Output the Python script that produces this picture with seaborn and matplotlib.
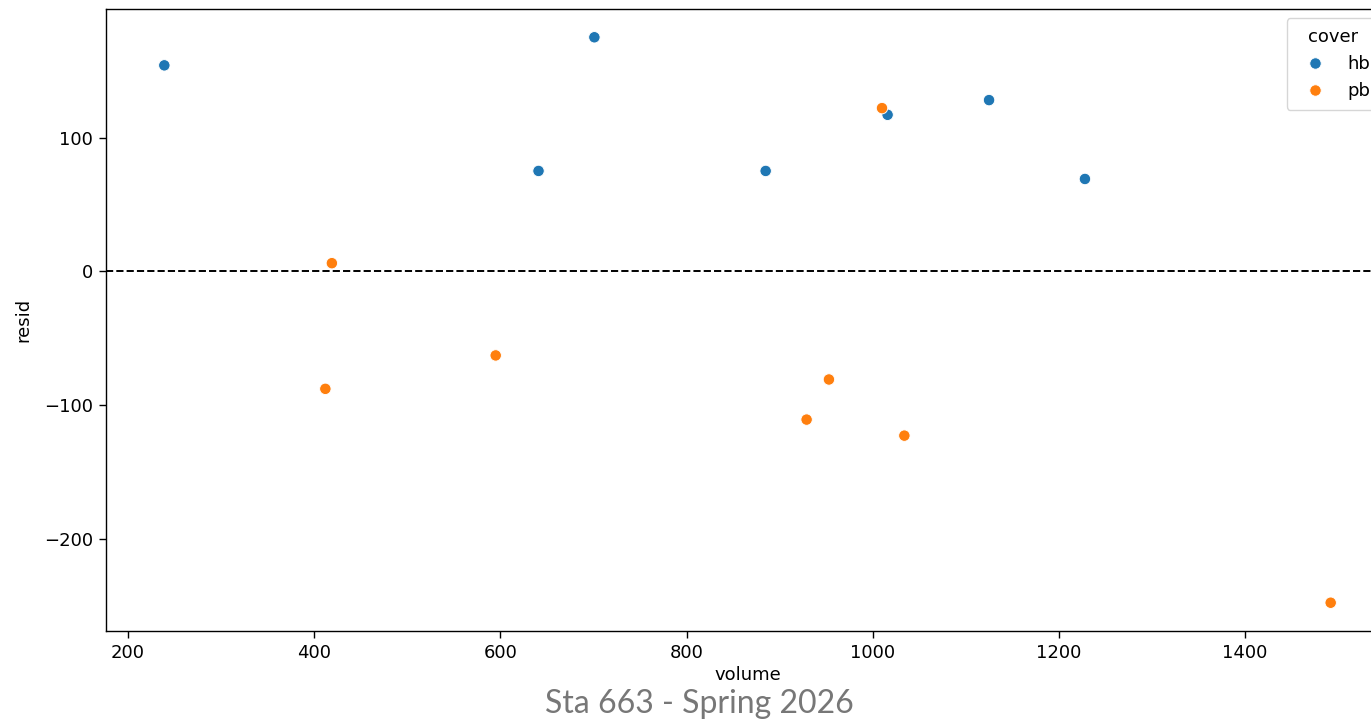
import matplotlib
matplotlib.use("Agg")
import matplotlib.pyplot as plt
import seaborn as sns
import pandas as pd

# data
hb_volume = [885, 1016, 1125, 239, 701, 641, 1228]
hb_resid = [75, 117, 128, 154, 175, 75, 69]
pb_volume = [412, 953, 929, 1492, 419, 1010, 595, 1034]
pb_resid = [-88, -81, -111, -248, 6, 122, -63, -123]

df = pd.DataFrame({
    "volume": hb_volume + pb_volume,
    "resid": hb_resid + pb_resid,
    "cover": ["hb"] * len(hb_volume) + ["pb"] * len(pb_volume),
})

plt.rcParams["font.family"] = ["DejaVu Sans"]
plt.rcParams["font.size"] = 13
plt.rcParams["axes.linewidth"] = 1.0
plt.rcParams["xtick.major.size"] = 5
plt.rcParams["ytick.major.size"] = 5
plt.rcParams["xtick.major.pad"] = 4.5
plt.rcParams["ytick.major.pad"] = 4.5
plt.rcParams["xtick.major.width"] = 1.0
plt.rcParams["ytick.major.width"] = 1.0

fig = plt.figure(figsize=(13.71, 7.23), dpi=100)
ax = fig.add_axes([106 / 1371, 1 - 631 / 723, (1389 - 106) / 1371, (631 - 9) / 723])

sns.scatterplot(data=df, x="volume", y="resid", hue="cover", s=68, ax=ax)
ax.axhline(0, color="black", linestyle="--", linewidth=1.4)

ax.set_xlabel("volume", fontsize=13, labelpad=3)
ax.set_ylabel("resid", fontsize=13, labelpad=8)
ax.tick_params(labelsize=13)

leg = ax.legend(title="cover", loc="upper right", fontsize=13, title_fontsize=13,
                borderpad=0.55)

fig.text(0.51, 0.005, "Sta 663 - Spring 2026", ha="center", va="bottom",
         fontsize=23, color="#777777", family=["Lato", "DejaVu Sans"])

fig.savefig("out.png", dpi=100)
